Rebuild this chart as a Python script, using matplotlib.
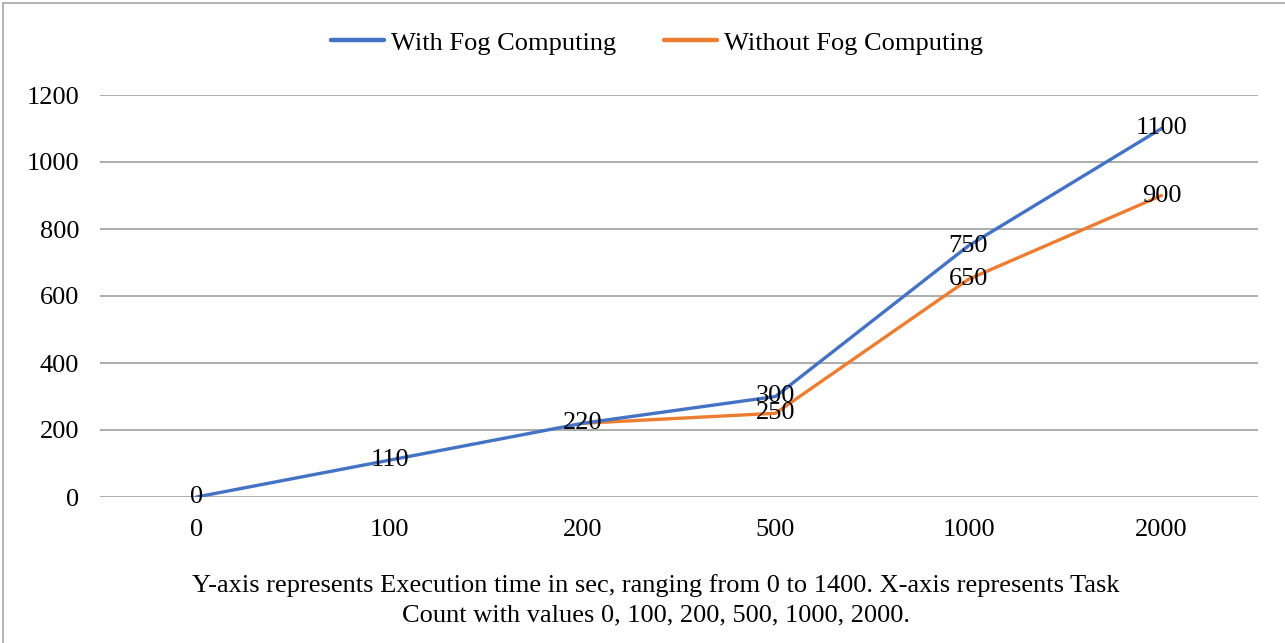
import matplotlib
matplotlib.use("Agg")
import matplotlib.pyplot as plt
from matplotlib.patches import Rectangle

plt.rcParams['font.family'] = ['Liberation Serif', 'DejaVu Serif']

categories = ["0", "100", "200", "500", "1000", "2000"]
with_fog = [0, 110, 220, 300, 750, 1100]
without_fog = [None, None, 220, 250, 650, 900]
y_ticks = [0, 200, 400, 600, 800, 1000, 1200]
note = ("Y-axis represents Execution time in sec, ranging from 0 to 1400. X-axis represents Task\n"
        "Count with values 0, 100, 200, 500, 1000, 2000.")

W, H = 1285, 643
FS = 19
fig = plt.figure(figsize=(W / 100, H / 100), dpi=100)
ax = fig.add_axes([100 / W, 1 - 497 / H, 1158 / W, 402 / H])

x = list(range(len(categories)))
xo = [i for i, v in zip(x, without_fog) if v is not None]
yo = [v for v in without_fog if v is not None]
l2, = ax.plot(xo, yo, color="#ED7D31", lw=2.4, solid_capstyle="round", zorder=3,
              label="Without Fog Computing")
l1, = ax.plot(x, with_fog, color="#4472C4", lw=2.4, solid_capstyle="round", zorder=4,
              label="With Fog Computing")

# data labels (the shared 220 is shown once)
for i, v in zip(x, with_fog):
    ax.annotate(str(v), (i, v), ha="center", va="center", fontsize=FS, zorder=5)
for i, v in zip(xo, yo):
    if v == 220:
        continue
    ax.annotate(str(v), (i, v), ha="center", va="center", fontsize=FS, zorder=5)

ax.set_xlim(-0.5, len(categories) - 0.5)
ax.set_ylim(0, 1200)
ax.set_yticks(y_ticks)
ax.set_xticks(x)
ax.set_xticklabels(categories)
ax.tick_params(axis="both", length=0, labelsize=FS)
ax.tick_params(axis="x", pad=16)
ax.tick_params(axis="y", pad=15)
ax.grid(axis="y", color="#a6a6a6", lw=1.3)
ax.set_axisbelow(True)
for s in ax.spines.values():
    s.set_visible(False)

leg = fig.legend(handles=[l1, l2], loc="center", bbox_to_anchor=(657 / W, 1 - 43 / H),
                 ncol=2, frameon=False, fontsize=FS, handlelength=2.0, handletextpad=0.25,
                 columnspacing=1.85)
for ln in leg.get_lines():
    ln.set_linewidth(3.2)

fig.text(656 / W, 1 - 600 / H, note, ha="center", va="center", fontsize=FS,
         linespacing=1.45)

fig.patches.append(Rectangle((3 / W, -0.1), 1.2, 1 - 3 / H + 0.1, transform=fig.transFigure,
                             fill=False, edgecolor="#a6a6a6", lw=1.2))

fig.savefig("out.png", dpi=100)
